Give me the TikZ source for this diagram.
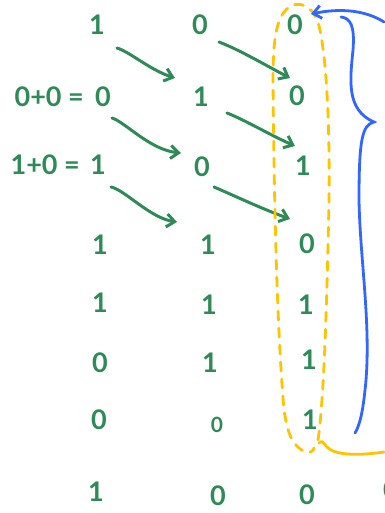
\documentclass[tikz,border=0pt]{standalone}
\usepackage{fontspec}
\setmainfont{Lato}
\usetikzlibrary{arrows.meta}
\definecolor{pen}{HTML}{2E8B57}
\definecolor{hl}{HTML}{FFC400}
\definecolor{bl}{HTML}{3366FF}
\tikzset{
  dig/.style={text=pen, font=\fontsize{27}{30}\selectfont\bfseries, inner sep=0pt, anchor=center},
  garrow/.style={draw=pen, line width=3pt, line cap=round, -{Straight Barb[length=8pt,width=13pt,line width=3pt]}},
  yline/.style={draw=hl, line width=2.8pt, line cap=round},
  bline/.style={draw=bl, line width=2.8pt, line cap=round},
}
\begin{document}
\begin{tikzpicture}[x=1pt,y=-1pt]
\useasboundingbox (0,0) rectangle (384,513);
% column 1
\node[dig] (a1) at (97,25) {1};
\node[dig] (a2) at (103,97) {0};
\node[dig] (a3) at (98,165) {1};
\node[dig] (a4) at (100,245) {1};
\node[dig] (a5) at (100,303) {1};
\node[dig] (a6) at (100,363) {0};
\node[dig] (a7) at (99,420) {0};
\node[dig] (a8) at (96,492) {1};
% equations
\node[dig, anchor=east] (e2) at (84,97) {0+0 =};
\node[dig, anchor=east] (e3) at (80,165) {1+0 =};
% column 2
\node[dig] (b1) at (200,25) {0};
\node[dig] (b2) at (201,97) {1};
\node[dig] (b3) at (202,167) {0};
\node[dig] (b4) at (208,245) {1};
\node[dig] (b5) at (209,305) {1};
\node[dig] (b6) at (210,363) {1};
\node[dig, font=\fontsize{21}{24}\selectfont\bfseries] (b7) at (217,425) {0};
\node[dig] (b8) at (218,496) {0};
% column 3
\node[dig] (c1) at (295,25) {0};
\node[dig] (c2) at (297,96) {0};
\node[dig] (c3) at (303,166) {1};
\node[dig] (c4) at (307,244) {0};
\node[dig] (c5) at (306,305) {1};
\node[dig] (c6) at (309,360) {1};
\node[dig] (c7) at (310,420) {1};
\node[dig] (c8) at (307,495) {0};
\node[dig] (d8) at (391,490) {0};
% arrows
\coordinate (s1) at (117,48); \coordinate (t1) at (175,78);
\coordinate (s2) at (219,42); \coordinate (t2) at (290,78);
\coordinate (s3) at (112,118); \coordinate (t3) at (181,153);
\coordinate (s4) at (227,113); \coordinate (t4) at (295,146);
\coordinate (s5) at (111,187); \coordinate (t5) at (177,222);
\coordinate (s6) at (214,187); \coordinate (t6) at (290,219);
\draw[garrow] (s1) .. controls (130,52) and (150,70) .. (t1);
\draw[garrow] (s2) .. controls (240,50) and (265,65) .. (t2);
\draw[garrow] (s3) .. controls (125,122) and (150,150) .. (t3);
\draw[garrow] (s4) .. controls (245,120) and (270,135) .. (t4);
\draw[garrow] (s5) .. controls (125,190) and (150,218) .. (t5);
\draw[garrow] (s6) .. controls (235,196) and (260,208) .. (t6);
% yellow dashed loop
\draw[yline, dash pattern=on 9pt off 8pt]
  (318,440) .. controls (324,400) and (327,300) .. (329,200)
  .. controls (330,120) and (326,50) .. (318,22)
  .. controls (312,5) and (298,0) .. (288,8)
  .. controls (276,18) and (273,40) .. (273,80)
  .. controls (274,200) and (277,330) .. (284,410)
  .. controls (288,435) and (292,445) .. (305,452)
  .. controls (310,454) and (314,450) .. (314,448);
\draw[yline] (319,443) .. controls (325,438) and (322,448) .. (336,452)
  .. controls (350,456) and (370,454) .. (384,452);
% blue arrow
\coordinate (bs) at (384,22);
\draw[bline, -{Straight Barb[length=8pt,width=13pt,line width=2.8pt]}]
  (bs) .. controls (365,10) and (340,8) .. (311,14);
% blue brace
\coordinate (br1) at (341,17);
\coordinate (br2) at (355,433);
\draw[bline] (br1) .. controls (350,18) and (355,25) .. (353,50)
  .. controls (350,80) and (346,110) .. (374,122)
  .. controls (362,125) and (359,140) .. (359,200)
  .. controls (360,260) and (372,330) .. (365,390)
  .. controls (363,410) and (360,425) .. (br2);
\end{tikzpicture}
\end{document}
